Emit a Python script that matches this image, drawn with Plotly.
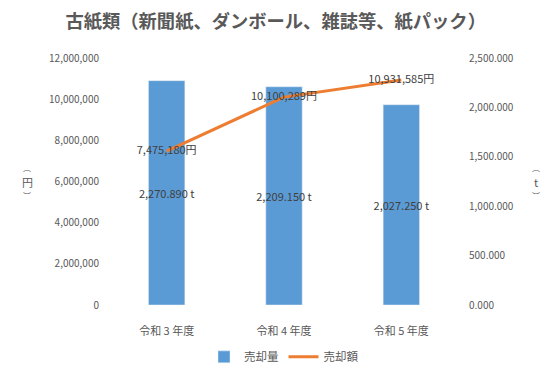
import plotly.graph_objects as go

categories = ["令和 3 年度", "令和 4 年度", "令和 5 年度"]
amount_t = [2270.890, 2209.150, 2027.250]
sales_yen = [7475180, 10100289, 10931585]
left_ticks = [0, 2000000, 4000000, 6000000, 8000000, 10000000, 12000000]
right_ticks = [0, 500, 1000, 1500, 2000, 2500]

FONT = "Noto Sans CJK JP"
GRAY = "#595959"

fig = go.Figure()
fig.add_trace(go.Bar(
    x=categories, y=amount_t, name="売却量", yaxis="y",
    marker_color="#5B9BD5", width=0.31,
    text=[f"{v:,.3f} t" for v in amount_t],
    textposition="inside", insidetextanchor="middle", textangle=0,
    textfont=dict(color="#404040", size=11, family=FONT),
    constraintext="none", cliponaxis=False,
))
fig.add_trace(go.Scatter(
    x=categories, y=sales_yen, name="売却額", yaxis="y2",
    mode="lines+text", line=dict(color="#ED7D31", width=3),
    text=[f"{v:,}円" for v in sales_yen], textposition="middle center",
    textfont=dict(color="#404040", size=11, family=FONT),
    cliponaxis=False,
))

fig.update_layout(
    width=557, height=388,
    margin=dict(l=108, r=97, t=58, b=83),
    paper_bgcolor="white", plot_bgcolor="white",
    font=dict(family=FONT, color=GRAY, size=10),
    title=dict(text="<b>古紙類（新聞紙、ダンボール、雑誌等、紙パック）</b>",
               x=0.495, xanchor="center", y=0.945, yanchor="middle",
               font=dict(size=18.3, color=GRAY, family=FONT)),
    xaxis=dict(showgrid=False, showline=False, zeroline=False,
               ticklabelstandoff=18, tickfont=dict(size=11, color=GRAY)),
    yaxis=dict(range=[0, 2500], tickvals=right_ticks,
               ticktext=[f"{v:,.3f}" for v in right_ticks],
               side="right",
               showgrid=False, zeroline=False, showline=False,
               ticklabelstandoff=8, tickfont=dict(size=10, color=GRAY)),
    yaxis2=dict(range=[0, 12000000], tickvals=left_ticks,
                ticktext=[f"{v:,}" for v in left_ticks],
                overlaying="y", side="left",
                showgrid=False, zeroline=False, showline=False,
                ticklabelstandoff=8, tickfont=dict(size=10, color=GRAY)),
    legend=dict(orientation="h", x=0.5, xanchor="center", y=-0.21, yanchor="middle",
                font=dict(size=11.5, color=GRAY), traceorder="normal"),
    showlegend=True,
)

for txt, dy, sz in [("︵", 14, 8), ("円", 0, 11), ("︶", -14, 8)]:
    fig.add_annotation(text=txt, xref="paper", yref="paper",
                       x=-0.23, y=0.5, yshift=dy, xanchor="center", yanchor="middle",
                       showarrow=False, font=dict(size=sz, color=GRAY, family=FONT))
for txt, dy, sz in [("︵", 14, 8), ("t", 0, 11), ("︶", -14, 8)]:
    fig.add_annotation(text=txt, xref="paper", yref="paper",
                       x=1.215, y=0.5, yshift=dy, xanchor="center", yanchor="middle",
                       showarrow=False, font=dict(size=sz, color=GRAY, family=FONT))

fig.write_html("out.html", config={"displayModeBar": False},
               post_script="document.body.style.margin='0';")
